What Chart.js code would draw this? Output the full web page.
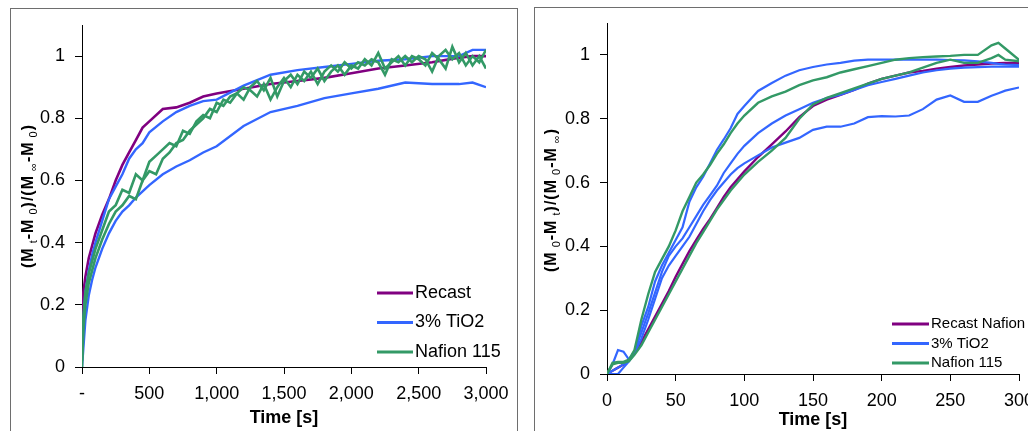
<!DOCTYPE html>
<html>
<head>
<meta charset="utf-8">
<script src="https://cdn.jsdelivr.net/npm/chart.js@4/dist/chart.umd.min.js"></script>
<style>
    html, body { margin: 0; padding: 0; background: #fff; overflow: hidden; }
    body { width: 1028px; height: 431px; position: relative; }
    .frame { position: absolute; border: 1px solid #6e6e6e; border-bottom: none; }
    #leftFrame { left: 10px; top: 8px; width: 506px; height: 440px; }
    #rightFrame { left: 534px; top: 7px; width: 520px; height: 440px; border-right: none; }
    canvas { position: absolute; }
    #leftChart { left: 10px; top: 8px; }
    #rightChart { left: 534px; top: 7px; }
</style>
</head>
<body>
<div class="frame" id="leftFrame"></div>
<div class="frame" id="rightFrame"></div>
<canvas id="leftChart" width="508" height="423"></canvas>
<canvas id="rightChart" width="494" height="424"></canvas>

<script>
    // ---- data: left panel (absorption, 0-3000 s) ----
    const leftTimeCoarse = [0, 10, 25, 50, 75, 100, 150, 200, 250, 300, 350, 400, 450, 500, 600, 700, 800, 900, 1000,
        1200, 1400, 1600, 1800, 2000, 2200, 2400, 2600, 2800, 2900, 3000];
    const recastLeft = [0.15, 0.24, 0.29, 0.35, 0.39, 0.43, 0.49, 0.54, 0.60, 0.65, 0.69, 0.73, 0.77, 0.79, 0.83, 0.835,
        0.85, 0.87, 0.88, 0.895, 0.91, 0.92, 0.93, 0.945, 0.96, 0.97, 0.98, 0.995, 1.0, 1.0];
    const tio2LeftA = [0.05, 0.15, 0.24, 0.31, 0.36, 0.40, 0.47, 0.54, 0.58, 0.62, 0.67, 0.70, 0.72, 0.755, 0.79, 0.82,
        0.84, 0.855, 0.86, 0.905, 0.94, 0.955, 0.965, 0.975, 0.985, 0.99, 1.0, 1.0, 1.02, 1.02];
    const tio2LeftB = [0.0, 0.06, 0.15, 0.23, 0.28, 0.32, 0.38, 0.43, 0.47, 0.50, 0.52, 0.545, 0.565, 0.585, 0.62, 0.645,
        0.665, 0.69, 0.71, 0.775, 0.82, 0.84, 0.865, 0.88, 0.895, 0.915, 0.91, 0.91, 0.915, 0.90];

    const leftTimeFine = [0, 10, 25, 50, 100, 150, 200, 250, 300, 350, 400, 450, 500, 550, 600, 650, 700, 750, 800, 850,
        900, 950, 1000, 1050, 1100, 1150, 1200, 1250, 1300, 1350, 1400, 1450, 1500, 1550, 1600, 1650, 1700, 1750, 1800,
        1850, 1900, 1950, 2000, 2050, 2100, 2150, 2200, 2250, 2300, 2350, 2400, 2450, 2500, 2550, 2600, 2650, 2700,
        2750, 2800, 2850, 2900, 2950, 3000];
    const nafionLeftA = [0.02, 0.16, 0.24, 0.30, 0.38, 0.44, 0.50, 0.52, 0.57, 0.56, 0.62, 0.60, 0.66, 0.68, 0.70, 0.72,
        0.71, 0.76, 0.75, 0.79, 0.81, 0.80, 0.85, 0.84, 0.87, 0.88, 0.86, 0.90, 0.92, 0.89, 0.93, 0.87, 0.92, 0.94,
        0.91, 0.95, 0.93, 0.96, 0.92, 0.95, 0.97, 0.94, 0.97, 0.96, 0.99, 0.97, 1.01, 0.96, 0.98, 1.00, 0.97, 1.00,
        0.99, 0.97, 1.01, 0.99, 0.96, 1.03, 0.98, 1.01, 0.97, 1.00, 0.96];
    const nafionLeftB = [0.0, 0.12, 0.20, 0.27, 0.35, 0.41, 0.46, 0.50, 0.52, 0.55, 0.54, 0.60, 0.63, 0.62, 0.67, 0.69,
        0.72, 0.73, 0.76, 0.78, 0.80, 0.83, 0.82, 0.86, 0.85, 0.88, 0.90, 0.89, 0.87, 0.91, 0.86, 0.90, 0.93, 0.90,
        0.94, 0.92, 0.95, 0.91, 0.95, 0.97, 0.95, 0.98, 0.96, 0.98, 0.97, 0.99, 0.98, 0.94, 0.99, 0.98, 1.00, 0.98,
        1.00, 0.99, 0.95, 1.00, 1.02, 0.99, 1.01, 0.97, 1.00, 0.98, 1.02];

    // ---- data: right panel (desorption, 0-300 s) ----
    const rightTime = [0, 4, 8, 12, 16, 20, 25, 30, 35, 40, 45, 50, 55, 60, 65, 70, 75, 80, 85, 90, 95, 100, 110, 120,
        130, 140, 150, 160, 170, 180, 190, 200, 210, 220, 230, 240, 250, 260, 270, 280, 285, 290, 300];
    const recastRight = [0, 0.01, 0.02, 0.03, 0.045, 0.065, 0.10, 0.14, 0.18, 0.22, 0.26, 0.305, 0.345, 0.385, 0.42,
        0.455, 0.485, 0.52, 0.555, 0.585, 0.61, 0.635, 0.68, 0.72, 0.76, 0.805, 0.84, 0.86, 0.875, 0.89, 0.91, 0.925,
        0.935, 0.945, 0.95, 0.957, 0.962, 0.967, 0.97, 0.973, 0.974, 0.975, 0.975];
    const tio2RightA = [0, 0.01, 0.02, 0.03, 0.045, 0.07, 0.15, 0.21, 0.29, 0.34, 0.38, 0.42, 0.46, 0.54, 0.585, 0.618,
        0.66, 0.702, 0.735, 0.77, 0.815, 0.84, 0.887, 0.912, 0.935, 0.952, 0.962, 0.97, 0.975, 0.982, 0.985, 0.985,
        0.985, 0.985, 0.985, 0.985, 0.984, 0.983, 0.98, 0.975, 0.972, 0.97, 0.968];
    const tio2RightB = [0, 0.03, 0.075, 0.07, 0.045, 0.07, 0.13, 0.19, 0.255, 0.32, 0.37, 0.40, 0.425, 0.46, 0.495, 0.53,
        0.56, 0.59, 0.63, 0.66, 0.69, 0.715, 0.755, 0.785, 0.81, 0.83, 0.85, 0.865, 0.875, 0.89, 0.905, 0.915, 0.925,
        0.935, 0.945, 0.952, 0.957, 0.96, 0.962, 0.963, 0.963, 0.963, 0.963];
    const tio2RightC = [0, 0, 0, 0.02, 0.04, 0.065, 0.11, 0.17, 0.235, 0.30, 0.34, 0.37, 0.40, 0.43, 0.47, 0.51, 0.545,
        0.575, 0.60, 0.625, 0.645, 0.66, 0.685, 0.71, 0.725, 0.74, 0.765, 0.775, 0.775, 0.785, 0.805, 0.808, 0.807,
        0.81, 0.83, 0.86, 0.873, 0.853, 0.853, 0.872, 0.88, 0.888, 0.898];
    const nafionRightA = [0, 0.035, 0.038, 0.038, 0.045, 0.075, 0.17, 0.25, 0.32, 0.36, 0.40, 0.45, 0.51, 0.555, 0.60,
        0.625, 0.655, 0.69, 0.72, 0.755, 0.785, 0.81, 0.85, 0.87, 0.885, 0.905, 0.92, 0.93, 0.945, 0.955, 0.965, 0.975,
        0.985, 0.99, 0.993, 0.995, 0.997, 1.0, 1.0, 1.03, 1.038, 1.02, 0.985];
    const nafionRightB = [0, 0.03, 0.035, 0.035, 0.04, 0.06, 0.09, 0.13, 0.17, 0.21, 0.25, 0.29, 0.33, 0.37, 0.41,
        0.445, 0.48, 0.515, 0.545, 0.575, 0.60, 0.625, 0.665, 0.70, 0.74, 0.80, 0.845, 0.865, 0.88, 0.895, 0.91,
        0.925, 0.935, 0.945, 0.96, 0.975, 0.985, 0.975, 0.975, 0.99, 1.0, 0.985, 0.98];

    // ---- labels ----
    const leftLegend = ['Recast', '3% TiO2', 'Nafion 115'];
    const rightLegend = ['Recast Nafion', '3% TiO2', 'Nafion 115'];
    const leftYTitle = [['(M', 0], [' t', 1], ['-M', 0], [' 0', 1], [')/(M', 0], [' \u221e', 1], ['-M', 0], [' 0', 1], [')', 0]];
    const rightYTitle = [['(M', 0], [' 0', 1], ['-M', 0], [' t', 1], [')/(M', 0], [' 0', 1], ['-M', 0], [' \u221e', 1], [')', 0]];
    const xTitle = 'Time [s]';

    const PURPLE = '#800080', BLUE = '#3366ff', GREEN = '#339966';
    const FONT = "'Liberation Sans', Arial, sans-serif";

    function line(label, xs, ys, color, width) {
        return {
            label: label,
            data: xs.map((x, i) => ({x: x, y: ys[i]})),
            borderColor: color,
            backgroundColor: color,
            borderWidth: width,
            pointRadius: 0,
            tension: 0,
            fill: false
        };
    }

    // rotated y title with small subscripts
    const yTitlePlugin = {
        id: 'yTitle',
        afterDraw(chart, args, o) {
            const ctx = chart.ctx;
            const mainFont = 'bold ' + o.size + 'px ' + FONT;
            const subFont = o.subSize + 'px ' + FONT;
            ctx.save();
            ctx.letterSpacing = o.spacing + 'px';
            let total = 0;
            o.parts.forEach(p => {
                ctx.font = p[1] ? subFont : mainFont;
                total += ctx.measureText(p[0]).width;
            });
            ctx.translate(o.x, o.y);
            ctx.rotate(-Math.PI / 2);
            ctx.fillStyle = '#000';
            ctx.textBaseline = 'middle';
            ctx.textAlign = 'left';
            let x = -total / 2;
            o.parts.forEach(p => {
                ctx.font = p[1] ? subFont : mainFont;
                ctx.fillText(p[0], x, p[1] ? o.subShift : 0);
                x += ctx.measureText(p[0]).width;
            });
            ctx.restore();
        }
    };

    const legendPlugin = {
        id: 'lineLegend',
        afterDraw(chart, args, o) {
            const ctx = chart.ctx;
            ctx.save();
            ctx.font = o.size + 'px ' + FONT;
            ctx.textBaseline = 'middle';
            ctx.fillStyle = '#000';
            o.labels.forEach((label, i) => {
                const y = o.y + i * o.dy;
                ctx.strokeStyle = o.colors[i];
                ctx.lineWidth = 3;
                ctx.beginPath();
                ctx.moveTo(o.x, y);
                ctx.lineTo(o.x + o.len, y);
                ctx.stroke();
                ctx.fillText(label, o.x + o.len + 2, y);
            });
            ctx.restore();
        }
    };

    function makeOptions(cfg) {
        return {
            responsive: false,
            animation: false,
            devicePixelRatio: 1,
            layout: {padding: {left: 0, top: cfg.top, right: cfg.right, bottom: 0}},
            plugins: {
                legend: {display: false},
                tooltip: {enabled: false},
                yTitle: cfg.yTitle,
                lineLegend: cfg.legend
            },
            scales: {
                x: {
                    type: 'linear',
                    min: 0,
                    max: cfg.xMax,
                    afterFit: s => { s.height = cfg.xHeight; s.paddingLeft = 0; s.paddingRight = 0; },
                    grid: {drawOnChartArea: false, drawTicks: true, tickLength: 7, color: '#000'},
                    border: {display: true, color: '#000', width: 1},
                    ticks: {
                        stepSize: cfg.xStep,
                        autoSkip: false,
                        maxRotation: 0,
                        padding: 9,
                        color: '#000',
                        font: {family: FONT, size: 18},
                        callback: cfg.xFormat
                    },
                    title: {
                        display: true,
                        text: xTitle,
                        color: '#000',
                        font: {family: FONT, size: 18, weight: 'bold'},
                        padding: {top: 0, bottom: cfg.titlePad}
                    }
                },
                y: {
                    min: 0,
                    max: 1.1,
                    afterFit: s => { s.width = cfg.yWidth; s.paddingTop = 0; s.paddingBottom = 0; },
                    afterBuildTicks: s => { s.ticks = s.ticks.filter(t => t.value <= 1.0001); },
                    grid: {drawOnChartArea: false, drawTicks: true, tickLength: 7, color: '#000'},
                    border: {display: true, color: '#000', width: 1},
                    ticks: {
                        stepSize: 0.2,
                        padding: 10,
                        color: '#000',
                        font: {family: FONT, size: 18},
                        callback: v => String(Math.round(v * 10) / 10)
                    }
                }
            }
        };
    }

    new Chart(document.getElementById('leftChart'), {
        type: 'line',
        data: {
            datasets: [
                line(leftLegend[2], leftTimeFine, nafionLeftA, GREEN, 2.6),
                line(leftLegend[2], leftTimeFine, nafionLeftB, GREEN, 2.6),
                line(leftLegend[1], leftTimeCoarse, tio2LeftA, BLUE, 2.4),
                line(leftLegend[1], leftTimeCoarse, tio2LeftB, BLUE, 2.4),
                line(leftLegend[0], leftTimeCoarse, recastLeft, PURPLE, 2.6)
            ]
        },
        options: makeOptions({
            top: 17, right: 32, xHeight: 64, yWidth: 72, xMax: 3000, xStep: 500, titlePad: 2,
            xFormat: v => v === 0 ? '-' : v.toLocaleString('en-US'),
            yTitle: {parts: leftYTitle, x: 19, y: 188, size: 16, subSize: 11, subShift: 5, spacing: 1},
            legend: {labels: leftLegend, colors: [PURPLE, BLUE, GREEN], x: 367, y: 285, dy: 29.5, len: 36, size: 18}
        }),
        plugins: [yTitlePlugin, legendPlugin]
    });

    new Chart(document.getElementById('rightChart'), {
        type: 'line',
        data: {
            datasets: [
                line(rightLegend[2], rightTime, nafionRightA, GREEN, 2.4),
                line(rightLegend[2], rightTime, nafionRightB, GREEN, 2.4),
                line(rightLegend[1], rightTime, tio2RightA, BLUE, 2.2),
                line(rightLegend[1], rightTime, tio2RightB, BLUE, 2.2),
                line(rightLegend[1], rightTime, tio2RightC, BLUE, 2.2),
                line(rightLegend[0], rightTime, recastRight, PURPLE, 2.4)
            ]
        },
        options: makeOptions({
            top: 16, right: 9, xHeight: 57, yWidth: 73, xMax: 300, xStep: 50, titlePad: 0,
            xFormat: v => String(v),
            yTitle: {parts: rightYTitle, x: 18, y: 193, size: 16, subSize: 11, subShift: 5, spacing: 1},
            legend: {labels: rightLegend, colors: [PURPLE, BLUE, GREEN], x: 358, y: 317, dy: 19.5, len: 37, size: 15}
        }),
        plugins: [yTitlePlugin, legendPlugin]
    });
</script>
</body>
</html>
